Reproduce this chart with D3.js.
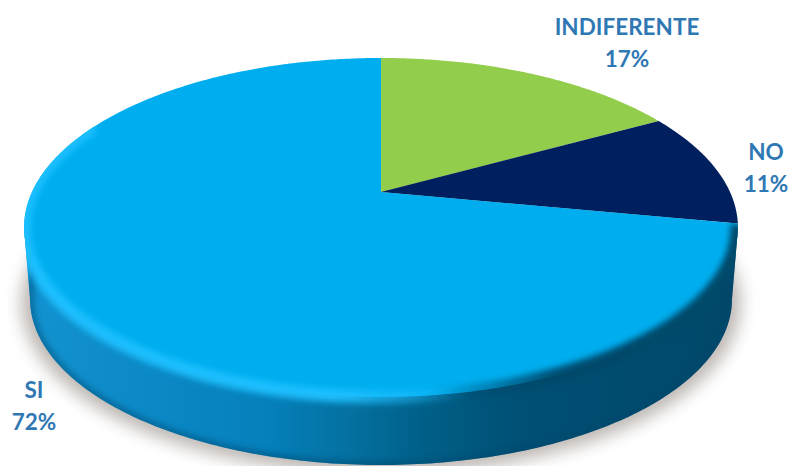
<!DOCTYPE html>
<html lang="es">
<head>
<meta charset="utf-8">
<script src="https://cdn.jsdelivr.net/npm/d3@7/dist/d3.min.js"></script>
<style>
  html, body { margin: 0; padding: 0; background: #fff; }
  svg { display: block; }
  text { font-family: Lato, "Open Sans", sans-serif; font-weight: 700; font-size: 22.5px; fill: #2f78b4; text-anchor: middle; }
</style>
</head>
<body>
<script>
const categories = ["INDIFERENTE", "NO", "SI"];
const percents = [17, 11, 72];
const sliceColors = ["#92cd4c", "#001f5f", "#00aeef"];

const W = 793, H = 466;
const svg = d3.select("body").append("svg").attr("width", W).attr("height", H);
const defs = svg.append("defs");

// Tilted disc: a circle in its own plane, seen through a perspective divide,
// so the apex sits above the centre of the drawn ellipse.
const cx = 381, radius = 349, tilt = -0.2094, lift = 121.9, apexY = 192;
function project(angle, r = 1) {
  const u = r * Math.sin(angle), v = -r * Math.cos(angle);
  const w = 1 + tilt * v;
  return [cx + radius * u / w, (lift * v + apexY) / w];
}

const line = d3.line();
const arcPoints = (a0, a1) => {
  const n = Math.max(2, Math.ceil(Math.abs(a1 - a0) / 0.01));
  return d3.range(n + 1).map(i => project(a0 + (a1 - a0) * i / n));
};

const TAU = Math.PI * 2;
const rimPath = line(arcPoints(0, TAU)) + "Z";

// Lower rim of the disc and the outline that joins it to the top face.
const base = { cx: 381, cy: 299, rx: 351, ry: 166 };
const basePoints = d3.range(0, 361, 1).map(d => {
  const t = d * Math.PI / 180;
  return [base.cx + base.rx * Math.cos(t), base.cy + base.ry * Math.sin(t)];
});
const basePath = line(basePoints) + "Z";
const lowerHalf = basePoints.slice(0, 181);
const wallPath = line([[738, 228], ...lowerHalf, [24, 228]]) + "Z";

// Gradients and blurs
const wallGrad = defs.append("linearGradient").attr("id", "wall")
  .attr("gradientUnits", "userSpaceOnUse").attr("x1", 24).attr("x2", 738).attr("y1", 0).attr("y2", 0);
[[0, "#1393d0"], [0.16, "#0c8ac7"], [0.34, "#0580bb"], [0.46, "#04709f"], [0.56, "#005f88"],
 [0.7, "#004f74"], [1, "#00486a"]].forEach(([o, c]) =>
  wallGrad.append("stop").attr("offset", o).attr("stop-color", c));

const glowGrad = defs.append("linearGradient").attr("id", "glow")
  .attr("gradientUnits", "userSpaceOnUse").attr("x1", 24).attr("x2", 470).attr("y1", 0).attr("y2", 0);
[[0, 0.95], [0.7, 0.95], [0.88, 0.45], [1, 0]].forEach(([o, a]) =>
  glowGrad.append("stop").attr("offset", o).attr("stop-color", "#1fc0ff").attr("stop-opacity", a));

const shadeGrad = defs.append("linearGradient").attr("id", "shade")
  .attr("gradientUnits", "userSpaceOnUse").attr("x1", 430).attr("x2", 640).attr("y1", 0).attr("y2", 0);
[[0, 0], [0.6, 0.95], [1, 1]].forEach(([o, a]) =>
  shadeGrad.append("stop").attr("offset", o).attr("stop-color", "#00486a").attr("stop-opacity", a));

const blur = (id, s) => defs.append("filter").attr("id", id)
  .attr("x", "-20%").attr("y", "-20%").attr("width", "140%").attr("height", "140%")
  .append("feGaussianBlur").attr("stdDeviation", s);
blur("soft", 3.4);
blur("softer", 8);

defs.append("clipPath").attr("id", "solid").selectAll("path")
  .data([rimPath, wallPath]).join("path").attr("d", d => d);
defs.append("clipPath").attr("id", "wallOnly").append("path").attr("d", wallPath);

// Cast shadow
svg.append("path").attr("d", basePath)
  .attr("transform", "translate(381,303) scale(1.025,1.03) translate(-381,-299)")
  .attr("fill", "#8a8078").attr("opacity", 0.55).attr("filter", "url(#softer)");

// Side wall
svg.append("path").attr("d", wallPath).attr("fill", "url(#wall)");
svg.append("g").attr("clip-path", "url(#wallOnly)")
  .append("path").attr("d", basePath).attr("fill", "none")
  .attr("stroke", "#00466c").attr("stroke-width", 7).attr("opacity", 0.55).attr("filter", "url(#soft)");

// Top face slices, one per category
const pie = d3.pie().sort(null).value(d => d);
const arcs = pie(percents);
svg.append("g").selectAll("path").data(arcs).join("path")
  .attr("d", d => line([[cx, apexY], ...arcPoints(d.startAngle, d.endAngle)]) + "Z")
  .attr("fill", (d, i) => sliceColors[i]);

// Bevel along the front edge: light on the left, dark on the right
const bevel = svg.append("g").attr("clip-path", "url(#solid)");
const deg = d => d * Math.PI / 180;
bevel.append("path").attr("d", line(arcPoints(deg(168), deg(296))))
  .attr("fill", "none").attr("stroke", "url(#glow)").attr("stroke-width", 13).attr("filter", "url(#soft)");
bevel.append("path").attr("d", line(arcPoints(deg(101), deg(178))))
  .attr("fill", "none").attr("stroke", "url(#shade)").attr("stroke-width", 15).attr("filter", "url(#soft)");

// Labels: category name over its share
const labelAnchors = [[627, 35], [766, 160], [34, 398]];
const labels = svg.append("g").selectAll("g").data(categories).join("g")
  .attr("transform", (d, i) => `translate(${labelAnchors[i]})`);
labels.append("text").text(d => d);
labels.append("text").attr("y", 32).text((d, i) => percents[i] + "%");
</script>
</body>
</html>
